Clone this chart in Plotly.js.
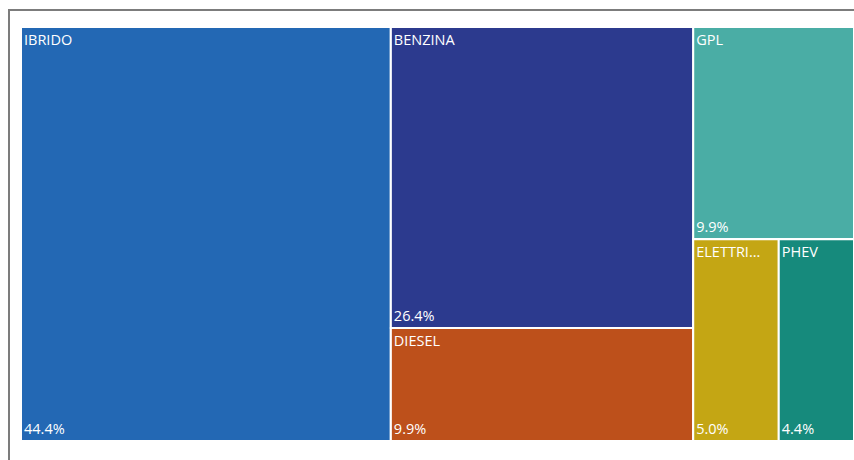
<!DOCTYPE html>
<html>
<head>
<meta charset="utf-8">
<script src="https://cdn.plot.ly/plotly-3.0.1.min.js"></script>
<style>
  html, body { margin: 0; padding: 0; background: #ffffff; overflow: hidden; }
  #frame { position: absolute; left: 8px; top: 9px; width: 1000px; height: 1000px;
           border-left: 2px solid #7c7c7c; border-top: 2px solid #7c7c7c; }
  #chart { position: absolute; left: 0; top: 0; width: 854px; height: 460px; }
</style>
</head>
<body>
<div id="frame"></div>
<div id="chart"></div>
<script>
// Node hierarchy (groups G1..G3 reproduce the column layout of the original)
var ids     = ["IBRIDO", "G1", "BENZINA", "DIESEL", "G2", "GPL", "G3", "ELETTRI", "PHEV"];
var labels  = ["IBRIDO", "", "BENZINA", "DIESEL", "", "GPL", "", "ELETTRI...", "PHEV"];
var parents = ["", "", "G1", "G1", "", "G2", "G2", "G3", "G3"];
// Share of total (%), groups carry no value of their own
var values  = [44.4, 0, 26.4, 9.9, 0, 9.9, 0, 5.0, 4.4];
var isLeaf  = [true, false, true, true, false, true, false, true, true];
var colors  = ["#2368B4", "#2B3990", "#2C3A8E", "#BD501B", "#4AADA5", "#4AADA5", "#168A7C", "#C4A614", "#168A7C"];

var fontFam = "'Segoe UI', 'Open Sans', 'Noto Sans', sans-serif";
var dom = { x: [21 / 854, 1], y: [19 / 460, 433 / 460] };

var common = {
  type: "treemap",
  ids: ids,
  labels: labels,
  parents: parents,
  values: values,
  branchvalues: "remainder",
  sort: true,
  tiling: { packing: "slice-dice", pad: 0 },
  pathbar: { visible: false },
  domain: dom,
  hoverinfo: "skip",
  textfont: { family: fontFam, size: 14.5, color: "#ffffff" },
  insidetextfont: { family: fontFam, size: 14.5, color: "#ffffff" }
};

var traceLabels = Object.assign({}, common, {
  marker: { colors: colors, line: { color: "#ffffff", width: 2 }, pad: { t: 0, l: 0, r: 0, b: 0 } },
  textposition: "top left",
  texttemplate: isLeaf.map(function (l) { return l ? "%{label}" : ""; })
});

var tracePct = Object.assign({}, common, {
  marker: { colors: ids.map(function () { return "rgba(0,0,0,0)"; }), line: { width: 0 }, pad: { t: 0, l: 0, r: 0, b: 0 } },
  textposition: "bottom left",
  texttemplate: isLeaf.map(function (l) { return l ? "%{value:.1f}%" : ""; })
});

var layout = {
  width: 854,
  height: 460,
  margin: { l: 0, r: 0, t: 0, b: 0 },
  paper_bgcolor: "rgba(0,0,0,0)",
  plot_bgcolor: "rgba(0,0,0,0)",
  showlegend: false
};

Plotly.newPlot("chart", [traceLabels, tracePct], layout, { displayModeBar: false, staticPlot: true });
</script>
</body>
</html>
